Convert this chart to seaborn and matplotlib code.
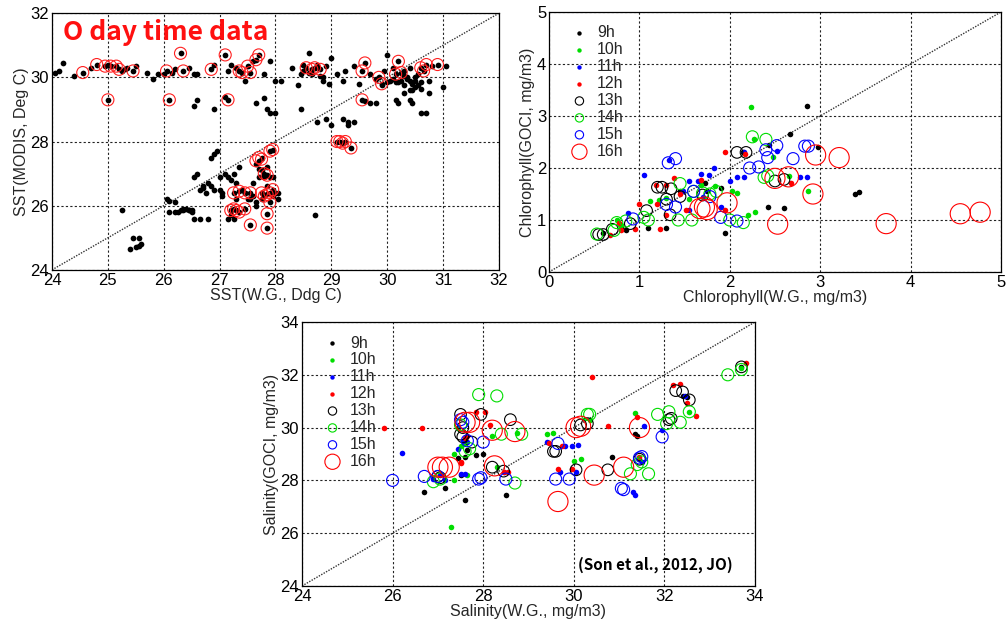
import numpy as np
import pandas as pd
import matplotlib
matplotlib.use("Agg")
import matplotlib.pyplot as plt
import seaborn as sns

# ---------------- Panel 1: SST ----------------
sst_wg = [24.05,24.12,24.2,24.4,24.55,24.7,24.8,24.95,25.0,25.05,25.15,25.2,25.25,25.3,25.35,25.45,25.5,25.7,25.8,25.9,
          26.0,26.05,26.15,26.2,26.3,26.35,26.45,26.55,26.6,26.85,26.9,27.1,27.15,27.2,27.3,27.35,27.4,27.45,27.5,27.55,
          27.6,27.65,27.7,27.8,27.9,28.0,28.1,28.3,28.4,28.5,28.55,28.6,28.65,28.7,28.75,28.8,28.85,28.9,29.0,29.1,
          29.2,29.25,29.4,29.5,29.55,29.6,29.7,29.85,29.9,29.95,30.0,30.1,30.15,30.2,30.25,30.3,30.35,30.4,30.45,30.5,
          30.55,30.6,30.65,30.7,30.75,30.8,30.9,31.05,31.0,30.05,30.1,30.2,30.3,30.4,30.5,30.6,30.15,30.35,30.45,30.55,
          30.25,30.5,30.6,29.8,29.9,30.0,30.3,30.4,28.5,28.6,28.65,28.8,28.85,28.45,28.95,
          25.0,26.1,26.55,26.6,26.9,27.15,27.1,27.65,27.8,27.85,27.9,28.0,28.45,28.75,28.9,29.0,29.2,29.3,29.4,29.3,
          29.55,29.6,29.7,29.8,30.2,30.15,30.3,30.4,30.6,30.7,30.75,30.45,29.1,29.15,29.2,29.25,29.35,
          25.25,25.45,25.55,25.4,25.5,25.55,25.6,26.05,26.1,26.2,26.3,26.1,26.2,26.4,26.45,26.5,26.55,26.65,26.8,26.55,
          26.6,26.65,26.7,26.75,26.8,26.85,26.9,26.85,26.9,26.95,27.0,27.0,27.05,27.1,27.15,27.2,27.25,27.3,27.35,27.3,
          27.2,27.15,27.25,27.4,27.45,27.55,27.6,27.65,27.7,27.75,27.8,27.85,27.9,27.95,28.0,28.05,28.05,28.7,27.65,27.7,
          27.75,27.25,27.35,27.45,27.55,27.75,27.85,27.9,27.95,27.8,27.2,27.25,27.3,27.35,27.45,27.85,27.55,27.85,27.7,
          27.75,27.8,27.85,27.9,27.95,27.9,26.35,26.5,26.7,27.05,27.5,27.6,26.25,26.35,26.45,27.95,27.85,27.65]
sst_modis = [30.15,30.2,30.45,30.05,30.15,30.3,30.4,30.35,30.4,30.35,30.35,30.25,30.2,30.25,30.3,30.2,30.35,30.15,29.95,30.1,
             30.1,30.2,30.15,30.25,30.75,30.2,30.3,30.1,30.1,30.25,30.4,30.7,30.2,30.4,30.3,30.2,30.15,29.9,30.35,30.15,
             30.5,30.55,30.7,30.1,30.5,29.9,29.9,30.3,29.75,30.4,30.3,30.75,30.25,30.3,30.4,30.25,30.0,30.35,30.6,30.1,
             29.9,30.2,30.35,29.8,30.2,30.45,30.1,30.0,29.8,30.2,30.7,30.3,30.1,30.5,30.15,30.2,30.0,30.3,29.8,29.9,
             30.1,30.3,30.2,30.4,29.9,30.35,30.4,30.35,29.7,29.9,29.95,29.85,29.75,29.9,29.7,29.85,29.85,29.95,29.6,29.75,
             29.9,30.0,29.65,29.95,29.75,29.85,30.05,29.6,30.2,30.15,30.1,30.05,29.9,30.1,29.8,
             29.3,29.3,29.1,29.3,29.0,29.3,29.4,29.2,29.35,29.0,28.9,28.9,29.0,28.6,28.7,28.5,28.7,28.6,28.6,28.5,
             29.3,29.25,29.2,29.2,29.2,29.3,29.5,29.3,28.9,28.9,29.5,29.2,28.0,28.0,27.95,28.0,27.8,
             25.85,25.0,25.0,24.65,24.7,24.75,24.8,26.2,26.15,26.1,25.85,25.8,25.8,25.9,25.85,25.8,25.6,25.6,25.6,26.9,
             27.0,26.5,26.6,26.4,26.7,26.6,26.5,27.5,27.6,27.7,26.9,26.5,26.3,27.0,26.9,26.8,27.0,26.7,27.2,26.2,
             25.7,25.6,25.6,26.5,26.4,26.2,26.3,26.1,26.9,26.2,26.9,26.6,26.9,26.3,26.4,26.4,26.2,25.7,27.3,27.15,
             27.1,26.4,26.45,26.4,26.4,26.4,26.35,26.4,26.5,26.3,25.85,25.9,25.85,25.8,25.9,25.75,25.4,25.3,27.4,
             27.5,27.0,26.95,27.7,27.75,26.1,25.85,25.85,26.55,26.4,26.2,26.7,25.8,25.9,25.85,26.9,27.2,26.0]
red_wg = [24.55,24.8,24.95,25.05,25.15,25.2,25.45,26.05,26.3,26.35,26.85,27.1,27.35,27.4,27.5,27.55,27.65,27.7,
          28.55,28.65,28.7,28.8,29.55,29.6,29.85,29.9,30.15,30.2,30.25,30.6,30.65,30.7,30.9,
          25.0,26.1,27.15,29.55,29.1,29.15,29.2,29.25,29.35,
          27.25,27.35,27.45,27.55,27.75,27.85,27.9,27.95,27.8,27.2,27.25,27.3,27.35,27.45,27.85,27.55,27.85,
          27.65,27.7,27.75,27.8,27.85,27.9,27.95,27.9]
red_modis = [30.15,30.4,30.35,30.35,30.35,30.25,30.2,30.2,30.75,30.2,30.25,30.7,30.2,30.15,30.35,30.15,30.55,30.7,
             30.3,30.25,30.3,30.25,30.2,30.45,30.0,29.8,30.1,30.5,30.15,30.3,30.2,30.4,30.4,
             29.3,29.3,29.3,29.3,28.0,28.0,27.95,28.0,27.8,
             26.4,26.45,26.4,26.4,26.4,26.35,26.4,26.5,26.3,25.85,25.9,25.85,25.8,25.9,25.75,25.4,25.3,
             27.4,27.5,27.45,27.0,26.95,27.7,27.75,26.1]

# ---------------- Panel 2: Chlorophyll ----------------
hours = ["9h", "10h", "11h", "12h", "13h", "14h", "15h", "16h"]
chl_wg = {
    "9h": [2.85,2.98,2.67,2.43,3.38,3.43,2.42,2.6,1.95,1.1,1.3,1.73,1.9,1.75,1.45,0.6,0.8,2.15,0.85],
    "10h": [2.23,2.27,2.48,2.65,2.87,2.08,2.02,2.2,2.28,1.84,1.68,1.12,1.22,0.8,0.75,1.3,1.55],
    "11h": [1.05,1.33,1.68,1.77,1.83,2.0,2.08,2.16,2.52,2.78,2.86,2.16,1.9,1.55,1.48,1.7,0.87,1.55,1.65],
    "12h": [1.95,2.17,2.68,1.95,1.3,1.3,1.23,1.0,0.95,0.8,0.67,0.77,1.18,1.38,1.52,1.45,1.68,1.2],
    "13h": [1.2,1.25,1.35,1.3,1.34,1.08,0.9,0.55,0.6,0.7,2.08,2.18,2.5,2.6,1.7,1.45],
    "14h": [2.25,2.4,2.38,2.42,1.45,1.43,1.58,2.0,2.15,1.6,1.78,1.85,1.7,1.1,0.75,0.85,0.53,0.72,1.05],
    "15h": [1.32,1.4,2.22,2.32,2.4,2.42,2.52,2.7,2.83,2.87,1.9,2.08,1.4,1.6,1.78,0.93,1.3],
    "16h": [2.95,3.21,2.92,2.5,2.65,2.53,3.73,4.55,4.77,1.97,1.67,1.75,1.72],
}
chl_goci = {
    "9h": [3.2,2.4,2.65,2.45,1.5,1.53,1.25,1.23,0.75,0.85,0.85,1.72,1.62,1.55,1.55,0.75,0.85,2.3,0.8],
    "10h": [3.17,2.55,2.22,1.85,1.55,1.52,1.55,1.1,1.15,1.65,1.67,1.37,1.38,0.9,1.0,1.42,1.4],
    "11h": [1.86,2.15,1.88,1.87,2.0,1.75,1.83,1.83,2.33,1.82,1.82,2.3,1.25,1.75,1.55,1.45,1.14,1.2,1.75],
    "12h": [2.3,2.27,1.72,1.2,1.68,1.1,0.82,1.3,0.82,0.8,0.72,0.95,1.67,1.8,1.2,1.5,1.77,1.3],
    "13h": [1.63,1.63,1.6,1.4,1.1,1.18,0.93,0.72,0.72,0.82,2.3,2.3,1.75,1.78,1.48,1.45],
    "14h": [2.6,2.55,1.82,1.85,1.7,1.0,1.0,1.0,0.95,1.55,1.5,1.55,1.52,1.0,0.95,0.98,0.73,0.8,1.05],
    "15h": [2.1,2.18,2.0,2.02,2.35,2.2,2.43,2.18,2.42,2.42,1.05,0.98,1.25,1.55,1.45,1.02,1.3],
    "16h": [2.25,2.2,1.5,1.8,1.83,0.92,0.93,1.12,1.15,1.33,1.22,1.2,1.25],
}

# ---------------- Panel 3: Salinity ----------------
sal_wg = {
    "9h": [26.7,27.15,27.6,28.5,27.45,27.6,27.85,28.0,27.65,30.85,31.35,31.4,32.4,32.5,33.7,27.5,31.45],
    "10h": [27.3,27.35,27.35,27.45,27.65,27.6,28.3,28.2,28.75,29.4,29.55,30.0,30.15,30.35,31.35,32.55,33.7,27.5],
    "11h": [26.2,26.9,27.05,27.45,27.5,27.6,27.55,27.65,29.4,29.8,29.95,29.7,30.1,30.05,31.3,31.35,31.5,31.55,31.95,32.45,27.15,28.45],
    "12h": [25.8,26.65,27.5,27.5,27.85,28.05,28.15,27.65,28.45,28.55,29.45,29.65,29.75,29.95,30.4,30.75,31.4,31.45,32.2,32.35,32.5,32.7,33.8,27.6],
    "13h": [27.5,27.5,27.55,27.55,27.75,27.95,28.6,28.2,28.45,29.55,29.6,30.05,30.15,30.3,30.75,31.45,32.1,32.15,32.25,32.4,32.55,33.7,27.05,27.0],
    "14h": [27.9,28.3,27.5,27.6,27.7,28.4,28.85,28.7,26.9,27.05,30.3,30.35,31.25,31.4,31.5,31.65,31.85,32.1,32.05,32.35,32.55,33.4,33.7],
    "15h": [26.0,26.7,27.0,27.5,27.55,27.65,27.9,27.95,28.0,28.5,29.6,29.65,29.9,31.05,31.1,31.45,31.5,31.95],
    "16h": [27.0,27.1,27.25,27.6,27.7,28.2,28.25,28.7,29.65,30.05,30.15,30.45,31.1,31.45],
}
sal_goci = {
    "9h": [27.55,27.7,27.25,27.45,28.85,28.9,28.95,29.0,29.15,28.9,29.75,29.7,31.2,31.15,32.3,28.2,28.8],
    "10h": [26.25,28.0,29.0,30.0,28.2,29.4,28.5,29.7,29.8,29.75,29.8,28.75,28.8,30.3,30.55,30.6,32.25,29.3],
    "11h": [29.05,28.05,28.2,29.2,28.25,28.25,29.5,29.45,29.45,29.3,29.3,28.3,29.35,28.3,27.55,27.45,28.7,30.05,29.9,31.2,28.0,28.3],
    "12h": [30.0,30.0,28.7,28.65,30.6,30.6,30.1,29.7,28.3,28.3,29.4,28.45,29.3,28.45,31.9,30.05,30.4,28.9,31.6,31.65,30.95,30.45,32.45,29.6],
    "13h": [30.5,29.75,29.65,30.0,29.45,30.5,30.3,28.5,28.35,29.1,29.1,28.4,30.1,30.15,28.4,28.8,30.3,30.35,31.4,31.35,31.05,32.3,28.1,28.15],
    "14h": [31.25,31.2,30.1,29.1,29.2,29.75,29.75,27.9,27.95,28.05,30.5,30.5,28.25,28.6,28.7,28.25,30.5,30.6,30.15,30.2,30.6,32.0,32.2],
    "15h": [28.0,28.15,28.15,30.3,30.2,29.5,28.05,28.1,29.45,28.05,28.05,29.4,28.05,27.7,27.65,28.85,28.9,29.65],
    "16h": [28.5,28.5,28.5,30.2,30.2,29.9,28.55,29.85,27.2,30.0,30.05,28.2,28.5,30.0],
}

colors = {"9h": "black", "10h": "#00dd00", "11h": "#0000ff", "12h": "#ff0000",
          "13h": "black", "14h": "#00dd00", "15h": "#0000ff", "16h": "#ff0000"}
sizes = {"9h": 16, "10h": 16, "11h": 16, "12h": 16, "13h": 70, "14h": 75, "15h": 75, "16h": 210}
legend_sizes = {"9h": 10, "10h": 10, "11h": 10, "12h": 10, "13h": 36, "14h": 36, "15h": 36, "16h": 120}
filled = {"9h": True, "10h": True, "11h": True, "12h": True,
          "13h": False, "14h": False, "15h": False, "16h": False}

sns.set_style("white")
plt.rcParams["font.family"] = ["Liberation Sans", "DejaVu Sans"]

fig = plt.figure(figsize=(10.08, 6.29), dpi=100)
ax1 = fig.add_axes([0.0516, 0.571, 0.4434, 0.408])
ax2 = fig.add_axes([0.5446, 0.5676, 0.4484, 0.4133])
ax3 = fig.add_axes([0.2996, 0.0684, 0.4494, 0.4197])


def style_axis(ax, lim, ticks):
    ax.set_xlim(lim)
    ax.set_ylim(lim)
    ax.set_xticks(ticks)
    ax.set_yticks(ticks)
    ax.grid(True, color="#222222", linestyle=(0, (2, 2)), linewidth=0.8)
    ax.tick_params(direction="in", length=4, labelsize=12, pad=2, colors="black")
    for s in ax.spines.values():
        s.set_color("black")
        s.set_linewidth(0.9)
    ax.plot(lim, lim, color="#333333", linestyle=(0, (1, 1)), linewidth=1.0, zorder=1)
    ax.set_axisbelow(True)


# Panel 1
style_axis(ax1, (24, 32), range(24, 33, 1))
ax1.set_yticks(range(24, 33, 2))
sns.scatterplot(x=sst_wg, y=sst_modis, ax=ax1, color="black", s=17, linewidth=0, zorder=3, legend=False)
sns.scatterplot(x=red_wg, y=red_modis, ax=ax1, facecolor="none", edgecolor="#ff2020", s=75,
                linewidth=0.8, zorder=4, legend=False)
ax1.set_xlabel("SST(W.G., Ddg C)", fontsize=11.5, labelpad=0)
ax1.set_ylabel("SST(MODIS, Deg C)", fontsize=11.5, labelpad=1)
ax1.text(24.2, 31.4, "O day time data", color="#ff1010", fontsize=19, fontweight="bold",
         family=["Noto Sans CJK KR", "DejaVu Sans"], va="center", ha="left")


def hourly(ax, xs, ys):
    for h in hours:
        df = pd.DataFrame({"x": xs[h], "y": ys[h]})
        if filled[h]:
            sns.scatterplot(data=df, x="x", y="y", ax=ax, color=colors[h], s=sizes[h],
                            linewidth=0, zorder=3, label=h)
        else:
            sns.scatterplot(data=df, x="x", y="y", ax=ax, facecolor="none", edgecolor=colors[h],
                            s=sizes[h], linewidth=0.8, zorder=3, label=h)
    leg = ax.legend(loc="upper left", frameon=False, fontsize=11.5, labelspacing=0.12,
                    handletextpad=0.5, borderaxespad=0.2, handlelength=1.2,
                    bbox_to_anchor=(0.025, 0.985))
    for h, handle in zip(hours, leg.legend_handles):
        handle.set_sizes([legend_sizes[h]])
    return leg


# Panel 2
style_axis(ax2, (0, 5), range(0, 6))
hourly(ax2, chl_wg, chl_goci)
ax2.set_xlabel("Chlorophyll(W.G., mg/m3)", fontsize=11.5, labelpad=0)
ax2.set_ylabel("Chlorophyll(GOCI, mg/m3)", fontsize=11.5, labelpad=1)

# Panel 3
style_axis(ax3, (24, 34), range(24, 35, 2))
hourly(ax3, sal_wg, sal_goci)
ax3.set_xlabel("Salinity(W.G., mg/m3)", fontsize=11.5, labelpad=0)
ax3.set_ylabel("Salinity(GOCI, mg/m3)", fontsize=11.5, labelpad=1)
ax3.text(30.1, 24.8, "(Son et al., 2012, JO)", fontsize=11, fontweight="bold",
         family=["Noto Sans CJK KR", "DejaVu Sans"], va="center", ha="left", color="black")

fig.savefig("out.png", dpi=100)
